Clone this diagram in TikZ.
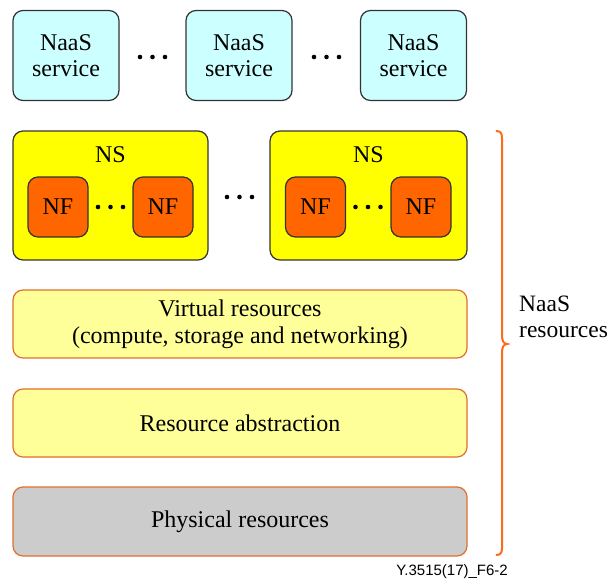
\documentclass[tikz,border=0pt]{standalone}
\usepackage{fontspec}
\setmainfont{Liberation Serif}
\newfontfamily\capfont{Liberation Sans}
\definecolor{svcfill}{HTML}{CCFFFF}
\definecolor{nsfill}{HTML}{FFFF00}
\definecolor{nffill}{HTML}{FF6600}
\definecolor{layerfill}{HTML}{FFFF99}
\definecolor{physfill}{HTML}{CCCCCC}
\definecolor{darkedge}{HTML}{333333}
\definecolor{layeredge}{HTML}{E0702A}
\definecolor{braceorange}{HTML}{FF6A1A}
\tikzset{
  box/.style={draw, rounded corners=10pt, inner sep=0pt, line width=1.2pt,
    font=\fontsize{24}{26}\selectfont, align=center},
  svcbox/.style={box, draw=darkedge, fill=svcfill, minimum width=106pt, minimum height=90pt},
  nsbox/.style={box, draw=darkedge, fill=nsfill, minimum height=129pt},
  nfbox/.style={box, draw=darkedge, fill=nffill, minimum width=60pt, minimum height=60pt},
  layerbox/.style={box, draw=layeredge, fill=layerfill, minimum width=454pt,
    font=\fontsize{24}{27}\selectfont},
  dotmark/.style={fill=black, draw=none},
}
\newcommand{\threedots}[2]{%
  \foreach \dx in {-12.5,0,12.5}{\fill[dotmark] ({#1+\dx},#2) circle (2.3pt);}}
\begin{document}
\begin{tikzpicture}[x=1pt,y=-1pt]
\useasboundingbox (0,0) rectangle (610,578);

% NaaS services
\node[svcbox] (svc1) at (66,55.5) {NaaS\\service};
\node[svcbox] (svc2) at (239,55.5) {NaaS\\service};
\node[svcbox] (svc3) at (413.5,55.5) {NaaS\\service};
\threedots{152.5}{57}
\threedots{326.5}{57}

% Network services with their network functions
\node[nsbox, minimum width=195pt] (ns1) at (110.5,195.5) {};
\node[nsbox, minimum width=197pt] (ns2) at (368.5,195.5) {};
\node[anchor=base, font=\fontsize{24}{26}\selectfont] (ns1lbl) at (110.5,162) {NS};
\node[anchor=base, font=\fontsize{24}{26}\selectfont] (ns2lbl) at (368.5,162) {NS};
\node[nfbox] (nf1) at (58,207) {NF};
\node[nfbox] (nf2) at (163,207) {NF};
\node[nfbox] (nf3) at (315.5,207) {NF};
\node[nfbox] (nf4) at (421,207) {NF};
\threedots{110.5}{207}
\threedots{368}{207}
\threedots{239.5}{197}

% Resource layers
\node[layerbox, minimum height=68pt] (virt) at (240,324) {Virtual resources\\(compute, storage and networking)};
\node[layerbox, minimum height=68pt] (abst) at (240,423) {Resource abstraction};
\node[layerbox, fill=physfill, minimum height=69pt] (phys) at (240,521.5) {Physical resources};

% Brace grouping the resource part
\draw[braceorange, line width=2pt, line cap=round]
  (496.5,131) .. controls (500.5,131) and (502,133.5) .. (502,138)
  -- (502,336) .. controls (502,341) and (504,344) .. (507,344)
  .. controls (504,344) and (502,347) .. (502,352)
  -- (502,548) .. controls (502,552.5) and (500.5,555) .. (496.5,555);
\node[anchor=base west, align=left, inner xsep=0pt, font=\fontsize{23.5}{26}\selectfont] (reslbl) at (519,337) {NaaS\\resources};

% Figure reference
\node[anchor=base east, inner sep=0pt, font=\capfont\fontsize{15}{16}\selectfont] (figref) at (508,575) {Y.3515(17)\_F6-2};
\end{tikzpicture}
\end{document}
